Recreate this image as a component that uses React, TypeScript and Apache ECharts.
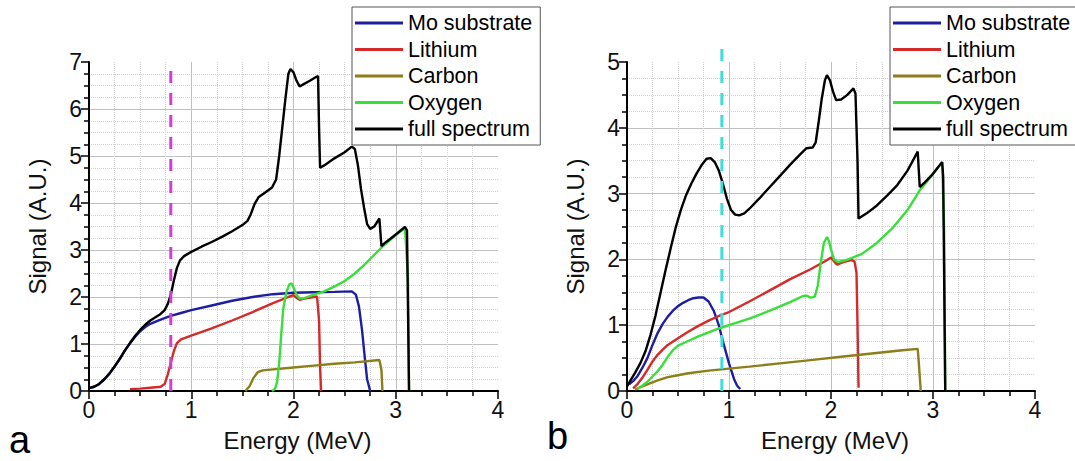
import React, { useEffect, useRef } from "react";
import * as echarts from "echarts";

// ---------- data ----------
const seriesNames = ["Mo substrate", "Lithium", "Carbon", "Oxygen", "full spectrum"];
const seriesColors = ["#1e1ea0", "#d42a2a", "#8c7f1a", "#3ade3a", "#000000"];
const xTickLabels = ["0", "1", "2", "3", "4"];
const yMaxA = 7;
const yMaxB = 5;

// Panel a
const moA = [[0,0.06],[0.05,0.09],[0.1,0.15],[0.15,0.25],[0.2,0.37],[0.25,0.52],[0.3,0.68],[0.35,0.86],[0.4,1.01],[0.45,1.15],[0.5,1.27],[0.55,1.36],[0.6,1.43],[0.7,1.52],[0.8,1.6],[0.9,1.66],[1.0,1.72],[1.2,1.82],[1.4,1.92],[1.6,2.0],[1.8,2.06],[2.0,2.09],[2.2,2.1],[2.4,2.11],[2.57,2.12],[2.61,2.05],[2.64,1.8],[2.67,1.3],[2.7,0.65],[2.72,0.25],[2.75,0]];
const liA = [[0.4,0.04],[0.5,0.05],[0.6,0.07],[0.7,0.09],[0.74,0.15],[0.77,0.35],[0.8,0.6],[0.83,0.85],[0.86,1.02],[0.9,1.1],[1.0,1.18],[1.2,1.33],[1.4,1.5],[1.6,1.68],[1.8,1.87],[1.95,2.0],[2.0,2.04],[2.03,1.98],[2.06,1.94],[2.12,1.97],[2.2,2.0],[2.23,2.01],[2.25,1.5],[2.26,0.5],[2.27,0]];
const cA = [[1.53,0],[1.57,0.1],[1.61,0.28],[1.65,0.4],[1.7,0.44],[1.8,0.46],[2.0,0.5],[2.2,0.54],[2.4,0.58],[2.6,0.61],[2.84,0.66],[2.86,0.45],[2.87,0]];
const oA = [[1.79,0],[1.82,0.05],[1.84,0.2],[1.86,0.6],[1.88,1.2],[1.9,1.75],[1.93,2.1],[1.96,2.27],[1.98,2.29],[2.0,2.2],[2.03,2.05],[2.06,1.97],[2.1,1.97],[2.2,2.05],[2.3,2.12],[2.4,2.22],[2.5,2.34],[2.6,2.5],[2.7,2.7],[2.8,2.92],[2.87,3.07],[2.95,3.22],[3.05,3.4],[3.09,3.47],[3.12,2.4],[3.13,0]];
const fullA = [[0,0.06],[0.05,0.09],[0.1,0.15],[0.15,0.25],[0.2,0.37],[0.25,0.52],[0.3,0.68],[0.35,0.86],[0.4,1.02],[0.45,1.17],[0.5,1.3],[0.55,1.41],[0.6,1.5],[0.65,1.57],[0.7,1.64],[0.74,1.72],[0.77,1.85],[0.8,2.05],[0.83,2.35],[0.86,2.62],[0.89,2.78],[0.93,2.87],[1.0,2.96],[1.1,3.07],[1.2,3.17],[1.3,3.28],[1.4,3.4],[1.5,3.53],[1.55,3.62],[1.58,3.75],[1.62,3.98],[1.66,4.13],[1.72,4.22],[1.79,4.33],[1.83,4.5],[1.86,5.0],[1.89,5.6],[1.92,6.2],[1.95,6.75],[1.97,6.85],[2.0,6.78],[2.03,6.6],[2.06,6.48],[2.1,6.53],[2.16,6.6],[2.22,6.68],[2.24,6.7],[2.25,5.6],[2.26,4.75],[2.3,4.8],[2.4,4.95],[2.5,5.08],[2.57,5.2],[2.6,5.15],[2.63,4.8],[2.66,4.3],[2.69,3.9],[2.72,3.55],[2.75,3.45],[2.79,3.5],[2.84,3.67],[2.86,3.08],[2.9,3.16],[3.0,3.33],[3.09,3.49],[3.11,3.42],[3.13,0]];
const markerA = [[0.8,0],[0.8,7]];

// Panel b
const moB = [[0.02,0.1],[0.06,0.15],[0.1,0.22],[0.15,0.35],[0.2,0.5],[0.25,0.7],[0.3,0.88],[0.35,1.02],[0.4,1.13],[0.45,1.22],[0.5,1.29],[0.55,1.34],[0.6,1.38],[0.65,1.41],[0.7,1.42],[0.75,1.42],[0.8,1.36],[0.85,1.22],[0.9,1.0],[0.95,0.7],[1.0,0.42],[1.05,0.18],[1.08,0.08],[1.11,0.03]];
const liB = [[0.06,0.04],[0.1,0.1],[0.15,0.2],[0.2,0.32],[0.25,0.45],[0.3,0.55],[0.35,0.63],[0.4,0.7],[0.5,0.8],[0.6,0.9],[0.7,0.99],[0.8,1.07],[0.9,1.14],[1.0,1.2],[1.2,1.36],[1.4,1.53],[1.6,1.7],[1.8,1.85],[1.95,1.98],[2.0,2.03],[2.03,1.97],[2.06,1.92],[2.12,1.96],[2.2,1.99],[2.23,1.97],[2.25,1.8],[2.26,1.0],[2.27,0.05]];
const cB = [[0.08,0.02],[0.12,0.05],[0.2,0.1],[0.3,0.16],[0.4,0.21],[0.5,0.24],[0.6,0.27],[0.8,0.31],[1.0,0.34],[1.2,0.37],[1.5,0.42],[1.8,0.47],[2.1,0.52],[2.4,0.57],[2.7,0.62],[2.85,0.64],[2.86,0.45],[2.88,0]];
const oB = [[0.1,0.03],[0.15,0.08],[0.2,0.14],[0.25,0.22],[0.3,0.3],[0.35,0.4],[0.4,0.52],[0.45,0.62],[0.5,0.69],[0.6,0.76],[0.7,0.83],[0.8,0.89],[0.9,0.95],[1.0,1.0],[1.2,1.1],[1.4,1.22],[1.6,1.35],[1.72,1.44],[1.76,1.45],[1.8,1.42],[1.84,1.43],[1.87,1.6],[1.9,1.95],[1.93,2.25],[1.96,2.34],[1.98,2.28],[2.0,2.15],[2.03,2.0],[2.07,1.96],[2.15,1.99],[2.3,2.08],[2.45,2.25],[2.6,2.47],[2.75,2.75],[2.87,3.05],[2.95,3.2],[3.05,3.4],[3.09,3.47],[3.11,2.4],[3.12,0]];
const fullB = [[0,0.07],[0.03,0.15],[0.08,0.28],[0.13,0.42],[0.18,0.6],[0.23,0.85],[0.28,1.15],[0.33,1.5],[0.38,1.85],[0.43,2.18],[0.48,2.5],[0.53,2.76],[0.58,2.98],[0.63,3.15],[0.68,3.3],[0.73,3.43],[0.78,3.53],[0.82,3.54],[0.86,3.48],[0.9,3.35],[0.94,3.15],[0.98,2.92],[1.02,2.75],[1.06,2.68],[1.1,2.67],[1.15,2.7],[1.2,2.77],[1.3,2.93],[1.4,3.1],[1.5,3.27],[1.6,3.44],[1.7,3.6],[1.76,3.69],[1.82,3.7],[1.85,3.78],[1.88,4.1],[1.91,4.45],[1.94,4.72],[1.96,4.8],[1.99,4.72],[2.02,4.55],[2.05,4.42],[2.1,4.43],[2.16,4.5],[2.22,4.6],[2.24,4.52],[2.26,3.5],[2.27,2.62],[2.35,2.7],[2.45,2.82],[2.55,2.97],[2.65,3.13],[2.75,3.35],[2.82,3.55],[2.85,3.64],[2.87,3.1],[2.92,3.17],[3.0,3.3],[3.09,3.48],[3.1,3.25],[3.12,0]];
const markerB = [[0.93,0],[0.93,5.25]];

const FONT = "Liberation Sans, Arial, sans-serif";

function makeXAxis(gridIndex: number) {
  return {
    gridIndex,
    type: "value",
    min: 0,
    max: 4,
    interval: 1,
    name: "Energy (MeV)",
    nameLocation: "middle",
    nameGap: 37,
    nameTextStyle: { fontSize: 24, color: "#111", fontFamily: FONT, padding: [0, 0, 0, 8] },
    axisLine: { show: true, onZero: false, lineStyle: { color: "#000", width: 2 } },
    axisTick: { show: true, inside: false, length: 8, lineStyle: { color: "#000", width: 1.5 } },
    minorTick: { show: true, splitNumber: 4, length: 5, lineStyle: { color: "#000", width: 1.5 } },
    splitLine: { show: true, showMinLine: false, showMaxLine: false, lineStyle: { color: "#c0c0c0", width: 1 } },
    minorSplitLine: { show: true, lineStyle: { color: "#d2d2d2", width: 1, type: "dotted" } },
    axisLabel: {
      fontSize: 23, color: "#111", fontFamily: FONT, margin: 7,
      formatter: (v: number) => xTickLabels[Math.round(v)] ?? String(v),
    },
  };
}

function makeYAxis(gridIndex: number, max: number) {
  return {
    gridIndex,
    type: "value",
    min: 0,
    max,
    interval: 1,
    name: "Signal (A.U.)",
    nameLocation: "middle",
    nameGap: 40,
    nameRotate: 90,
    nameTextStyle: { fontSize: 24, color: "#111", fontFamily: FONT },
    axisLine: { show: true, onZero: false, lineStyle: { color: "#000", width: 2 } },
    axisTick: { show: true, inside: false, length: 8, lineStyle: { color: "#000", width: 1.5 } },
    minorTick: { show: true, splitNumber: 4, length: 5, lineStyle: { color: "#000", width: 1.5 } },
    splitLine: { show: true, showMinLine: false, showMaxLine: false, lineStyle: { color: "#c0c0c0", width: 1 } },
    minorSplitLine: { show: true, lineStyle: { color: "#d2d2d2", width: 1, type: "dotted" } },
    axisLabel: { fontSize: 23, color: "#111", fontFamily: FONT, margin: 7 },
  };
}

function makeSeries(idx: number, datasets: number[][][], marker: number[][], markerColor: string) {
  const out: any[] = datasets.map((d, i) => ({
    name: seriesNames[i],
    type: "line",
    xAxisIndex: idx,
    yAxisIndex: idx,
    data: d,
    symbol: "none",
    showSymbol: false,
    clip: false,
    lineStyle: { color: seriesColors[i], width: 2.4 },
    itemStyle: { color: seriesColors[i] },
  }));
  out.push({
    name: "marker" + idx,
    type: "line",
    xAxisIndex: idx,
    yAxisIndex: idx,
    data: marker,
    symbol: "none",
    clip: false,
    lineStyle: { color: markerColor, width: 3, type: [12, 10] },
    itemStyle: { color: markerColor },
  });
  return out;
}

function makeLegend(left: number) {
  return {
    left,
    top: 7,
    orient: "vertical",
    data: seriesNames,
    icon: "rect",
    itemWidth: 48,
    itemHeight: 3,
    itemGap: 4.5,
    padding: [5, 8, 5, 3],
    borderColor: "#555",
    borderWidth: 1,
    backgroundColor: "#fff",
    selectedMode: false,
    textStyle: { fontSize: 21.5, color: "#000", fontFamily: FONT, lineHeight: 22 },
  };
}

export default function App() {
  const ref = useRef<HTMLDivElement>(null);
  useEffect(() => {
    if (!ref.current) return;
    const chart = echarts.init(ref.current, null, { renderer: "svg" });
    chart.setOption({
      animation: false,
      backgroundColor: "#fff",
      grid: [
        { left: 89, top: 62, width: 409, height: 329 },
        { left: 627, top: 62, width: 408, height: 329 },
      ],
      xAxis: [makeXAxis(0), makeXAxis(1)],
      yAxis: [makeYAxis(0, yMaxA), makeYAxis(1, yMaxB)],
      legend: [makeLegend(352), makeLegend(890)],
      series: [
        ...makeSeries(0, [moA, liA, cA, oA, fullA], markerA, "#d23ed2"),
        ...makeSeries(1, [moB, liB, cB, oB, fullB], markerB, "#40dcdc"),
      ],
      graphic: [
        { type: "text", left: 9, top: 421, style: { text: "a", fontSize: 38, fill: "#000", fontFamily: FONT } },
        { type: "text", left: 547, top: 417, style: { text: "b", fontSize: 38, fill: "#000", fontFamily: FONT } },
      ],
    });
    return () => chart.dispose();
  }, []);
  return <div ref={ref} style={{ position: "absolute", left: 0, top: 0, width: 1075, height: 461 }} />;
}
